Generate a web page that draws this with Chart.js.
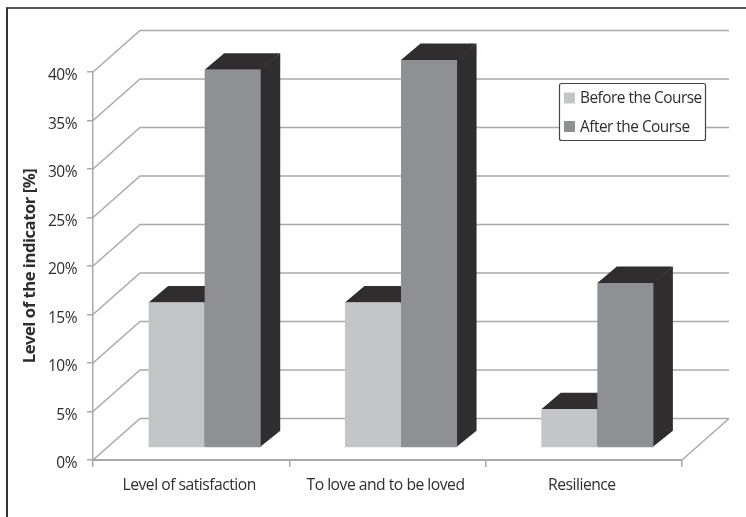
<!DOCTYPE html>
<html>
<head>
<meta charset="utf-8">
<title>Level of the indicator</title>
<script src="https://cdn.jsdelivr.net/npm/chart.js@4/dist/chart.umd.min.js"></script>
<style>
  html, body { margin: 0; padding: 0; background: #fff; }
  #wrap { position: relative; width: 746px; height: 517px; overflow: hidden; }
  #frame { position: absolute; left: 6px; top: 7px; width: 760px; height: 540px; border-left: 2px solid #333; border-top: 2px solid #555; }
</style>
</head>
<body>
<div id="wrap">
  <div id="frame"></div>
  <canvas id="barChart" width="746" height="517" style="position:relative"></canvas>
</div>
<script>
const categories = ['Level of satisfaction', 'To love and to be loved', 'Resilience'];
const beforeCourse = [15, 15, 4];
const afterCourse = [39, 40, 17];
const seriesNames = ['Before the Course', 'After the Course'];
const tickStep = 5;
const axisMax = 40;

const fontName = '"Open Sans", sans-serif';
const textColor = '#2e2e2e';
const gridColor = '#a9a9ab';
const lightBar = '#c4c5c7';
const darkBar = '#8f9093';
const sideColor = '#2f2d2e';

// depth of the box behind the axes, and of each bar
const wall = { dx: 47, dy: -41.5 };
const floorShift = { dx: 13.5, dy: -12 };
const barDepth = { dx: 19.5, dy: -16.5 };

function poly(ctx, pts, color) {
    ctx.fillStyle = color;
    ctx.beginPath();
    pts.forEach((p, i) => i ? ctx.lineTo(p[0], p[1]) : ctx.moveTo(p[0], p[1]));
    ctx.closePath();
    ctx.fill();
}

const box3d = {
    id: 'box3d',
    beforeDraw(chart) {
        // tighter text, the font runs a bit wide otherwise
        chart.ctx.letterSpacing = '-0.5px';
    },
    beforeDatasetsDraw(chart) {
        const ctx = chart.ctx;
        const x = chart.scales.x, y = chart.scales.y;
        ctx.save();
        ctx.strokeStyle = gridColor;
        ctx.lineWidth = 1.5;
        ctx.beginPath();
        for (let v = 0; v <= axisMax; v += tickStep) {
            const py = y.getPixelForValue(v);
            ctx.moveTo(x.left, py);
            ctx.lineTo(x.left + wall.dx, py + wall.dy);
            ctx.lineTo(x.right + wall.dx, py + wall.dy);
        }
        // right edge of the floor
        const y0 = y.getPixelForValue(0);
        ctx.moveTo(x.right, y0);
        ctx.lineTo(x.right + wall.dx, y0 + wall.dy);
        ctx.stroke();

        // bars sit a little way back on the floor
        ctx.translate(floorShift.dx, floorShift.dy);
        chart.data.datasets.forEach((ds, i) => {
            chart.getDatasetMeta(i).data.forEach(bar => {
                const l = bar.x - bar.width / 2, r = bar.x + bar.width / 2;
                const d = barDepth;
                poly(ctx, [[l, bar.y], [l + d.dx, bar.y + d.dy], [r + d.dx, bar.y + d.dy], [r, bar.y]], sideColor);
                poly(ctx, [[r - 1, bar.y], [r + d.dx, bar.y + d.dy], [r + d.dx, bar.base + d.dy], [r - 1, bar.base]], sideColor);
            });
        });
        ctx.restore();
        ctx.save();
        ctx.translate(floorShift.dx, floorShift.dy);
    },
    afterDatasetsDraw(chart) {
        chart.ctx.restore();
    },
    afterDraw(chart) {
        const ctx = chart.ctx;
        ctx.save();
        ctx.fillStyle = '#fff';
        ctx.strokeStyle = '#444';
        ctx.lineWidth = 1.2;
        ctx.beginPath();
        ctx.roundRect(559.5, 83.5, 146, 57, 2);
        ctx.fill();
        ctx.stroke();
        ctx.font = '15.4px ' + fontName;
        ctx.textBaseline = 'middle';
        chart.data.datasets.forEach((ds, i) => {
            const rowY = 98 + i * 28.5;
            ctx.fillStyle = ds.backgroundColor;
            ctx.fillRect(564, rowY - 5.5, 11, 11);
            ctx.fillStyle = textColor;
            ctx.fillText(ds.label, 580, rowY + 1);
        });
        ctx.restore();
    }
};

new Chart(document.getElementById('barChart'), {
    type: 'bar',
    data: {
        labels: categories,
        datasets: [
            { label: seriesNames[0], data: beforeCourse, backgroundColor: lightBar },
            { label: seriesNames[1], data: afterCourse, backgroundColor: darkBar }
        ]
    },
    options: {
        responsive: false,
        animation: false,
        layout: { padding: { top: 72, right: 64, left: 0, bottom: 0 } },
        datasets: { bar: { barPercentage: 1, categoryPercentage: 0.571 } },
        plugins: { legend: { display: false }, tooltip: { enabled: false } },
        scales: {
            x: {
                afterFit(scale) { scale.height = 57; },
                grid: { drawOnChartArea: false, tickLength: 7, color: gridColor, lineWidth: 1.5 },
                border: { color: gridColor, width: 2 },
                ticks: { color: textColor, font: { family: fontName, size: 15.7 }, padding: 9, labelOffset: -2, maxRotation: 0 }
            },
            y: {
                min: 0,
                max: axisMax,
                afterFit(scale) { scale.width = 93; },
                grid: { drawOnChartArea: false, tickLength: 6, color: gridColor, lineWidth: 1.5 },
                border: { color: gridColor, width: 1.5 },
                ticks: {
                    stepSize: tickStep,
                    color: textColor,
                    font: { family: fontName, size: 15.5 },
                    padding: 10,
                    labelOffset: 4,
                    callback: v => v + '%'
                },
                title: {
                    display: true,
                    text: 'Level of the indicator [%]',
                    color: textColor,
                    font: { family: fontName, size: 16.7, weight: 'bold' },
                    padding: { top: 20, bottom: 0 }
                }
            }
        }
    },
    plugins: [box3d]
});
</script>
</body>
</html>
